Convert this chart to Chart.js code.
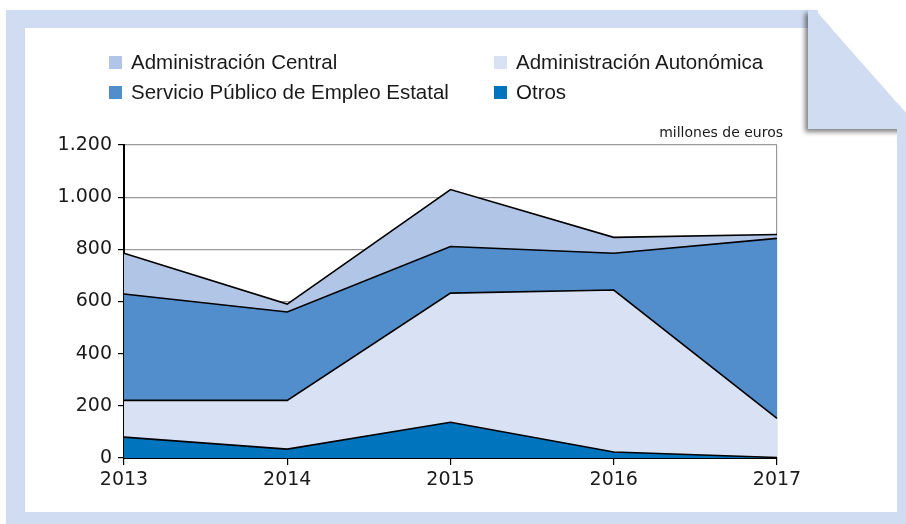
<!DOCTYPE html>
<html>
<head>
<meta charset="utf-8">
<script src="https://cdn.jsdelivr.net/npm/chart.js@4.4.1/dist/chart.umd.min.js"></script>
<style>
  html, body { margin: 0; padding: 0; background: #ffffff; }
  #wrap { position: relative; width: 906px; height: 524px; overflow: hidden; }
  #frame { position: absolute; left: 0; top: 0; }
  #chart { position: absolute; left: 0; top: 0; }
  .leg { position: absolute; font-family: "Liberation Sans", Arial, sans-serif; font-size: 20.5px; color: #1a1a1a; white-space: nowrap; line-height: 1; }
  .sw { position: absolute; width: 13px; height: 13px; }
  #unit { position: absolute; right: 123px; top: 124px; font-family: "DejaVu Sans", sans-serif; font-size: 14px; color: #1a1a1a; white-space: nowrap; }
</style>
</head>
<body>
<div id="wrap">
  <svg id="frame" width="906" height="524" xmlns="http://www.w3.org/2000/svg">
    <defs>
      <filter id="sh" x="-20%" y="-20%" width="140%" height="140%">
        <feDropShadow dx="-3" dy="3" stdDeviation="2.5" flood-color="#000" flood-opacity="0.5"/>
      </filter>
    </defs>
    <polygon points="6,10 815,10 906,113 906,524 6,524" fill="#d0dcf1"/>
    <rect x="25" y="28" width="872" height="484" fill="#ffffff"/>
    <polygon points="808,28 808,129 906,129 906,113 815,10 808,10" fill="#d0dcf1" filter="url(#sh)"/>
    <rect x="897" y="129" width="9" height="395" fill="#d0dcf1"/>
    <rect x="808" y="10" width="10" height="18" fill="#d0dcf1"/>
  </svg>
  <canvas id="chart" width="906" height="524"></canvas>
  <div id="legend"></div>
  <div id="unit">millones de euros</div>
</div>
<script>
const years = ["2013", "2014", "2015", "2016", "2017"];
const otros = [80, 34, 137, 23, 2];
const autonomica = [141, 187, 495, 621, 150];
const sepe = [408, 339, 179, 141, 690];
const central = [156, 30, 218, 61, 15];
const yTicks = [0, 200, 400, 600, 800, 1000, 1200];

const names = {
  central: "Administración Central",
  autonomica: "Administración Autonómica",
  sepe: "Servicio Público de Empleo Estatal",
  otros: "Otros"
};
const colors = {
  central: "#b1c5e7",
  autonomica: "#d9e2f5",
  sepe: "#528ecc",
  otros: "#0074bc"
};

// HTML legend (2 columns)
const legendItems = [
  { key: "central", x: 109, y: 56 },
  { key: "autonomica", x: 494, y: 56 },
  { key: "sepe", x: 109, y: 86 },
  { key: "otros", x: 494, y: 86 }
];
const legEl = document.getElementById("legend");
legendItems.forEach(it => {
  const sw = document.createElement("div");
  sw.className = "sw";
  sw.style.left = it.x + "px";
  sw.style.top = it.y + "px";
  sw.style.background = colors[it.key];
  legEl.appendChild(sw);
  const t = document.createElement("div");
  t.className = "leg";
  t.style.left = (it.x + 22) + "px";
  t.style.top = (it.y - 4) + "px";
  t.textContent = names[it.key];
  legEl.appendChild(t);
});

function fmt(v) {
  return String(v).replace(/\B(?=(\d{3})+(?!\d))/g, ".");
}

const ds = (key, data, fill) => ({
  label: names[key],
  data: data,
  backgroundColor: colors[key],
  borderColor: "#000000",
  borderWidth: 1.6,
  pointRadius: 0,
  pointHoverRadius: 0,
  tension: 0,
  fill: fill
});

new Chart(document.getElementById("chart"), {
  type: "line",
  data: {
    labels: years,
    datasets: [
      ds("otros", otros, "origin"),
      ds("autonomica", autonomica, "-1"),
      ds("sepe", sepe, "-1"),
      ds("central", central, "-1")
    ]
  },
  options: {
    responsive: false,
    animation: false,
    events: [],
    layout: { padding: { left: 0, right: 129, top: 145, bottom: 0 } },
    plugins: { legend: { display: false }, tooltip: { enabled: false } },
    scales: {
      x: {
        offset: false,
        afterFit: s => { s.height = 66; },
        grid: {
          display: true,
          drawOnChartArea: true,
          color: c => (c.index === years.length - 1 ? "#9a9a9a" : "rgba(0,0,0,0)"),
          tickColor: "#000000",
          tickLength: 7,
          lineWidth: 1.2
        },
        border: { display: true, color: "#000000", width: 2 },
        ticks: {
          color: "#1a1a1a",
          font: { family: "DejaVu Sans", size: 19 },
          padding: 4,
          maxRotation: 0
        }
      },
      y: {
        stacked: true,
        min: 0,
        max: 1200,
        afterFit: s => { s.width = 124; },
        afterBuildTicks: s => { s.ticks = yTicks.map(v => ({ value: v })); },
        grid: {
          color: "#9a9a9a",
          lineWidth: 1.2,
          tickColor: "#000000",
          tickLength: 6
        },
        border: { display: true, color: "#000000", width: 2 },
        ticks: {
          color: "#1a1a1a",
          font: { family: "DejaVu Sans", size: 19 },
          padding: 6,
          callback: v => fmt(v)
        }
      }
    }
  }
});
</script>
</body>
</html>
